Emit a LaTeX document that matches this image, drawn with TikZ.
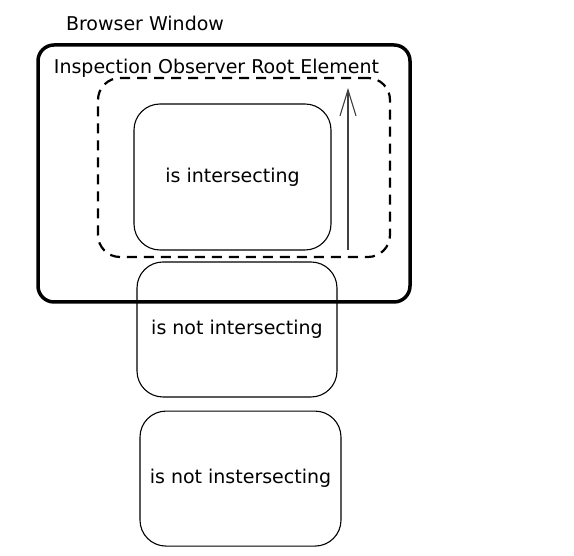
\documentclass[tikz,border=0pt]{standalone}
\usepackage{fontspec}
\setmainfont{DejaVu Sans}
\usepackage{tikz}
\usetikzlibrary{positioning, arrows.meta}

\begin{document}
\begin{tikzpicture}[
    x=1pt, y=1pt,
    label/.style={font=\fontsize{19}{21}\selectfont, inner sep=0pt},
    window/.style={draw, line width=3.5pt, rounded corners=16pt, minimum width=372pt, minimum height=257pt},
    rootarea/.style={draw, dashed, dash pattern=on 10pt off 7pt, line width=2.2pt, rounded corners=22pt, minimum width=292pt, minimum height=179pt},
    target/.style={draw, line width=1.1pt, rounded corners=26pt, align=center, inner sep=0pt, font=\fontsize{19}{21}\selectfont}
]
\useasboundingbox (0,0) rectangle (574,556);

% Browser window
\node[window] (browser) at (224,382.5) {};
\node[label] (browserlabel) at (145,533) {Browser Window};

% Observer root
\node[rootarea] (root) at (244,388.5) {};
\node[label] (rootlabel) at (216.5,488) {Inspection Observer Root Element};

% Observed targets
\node[target, minimum width=197pt, minimum height=146pt] (inside) at (232.5,379) {is intersecting};
\node[target, minimum width=200pt, minimum height=135pt] (outside) at (237,226.5) {is not intersecting};
\node[target, minimum width=201pt, minimum height=135pt, below=13pt of outside.south, anchor=north, xshift=3.5pt] (outsideb) {is not instersecting};

% Scroll direction
\coordinate (scrollstart) at (348,306);
\coordinate (scrollend) at (348,468);
\draw[-{Straight Barb[length=26pt, width=16pt]}, line width=1.1pt, black!75] (scrollstart) -- (scrollend);

\end{tikzpicture}
\end{document}
